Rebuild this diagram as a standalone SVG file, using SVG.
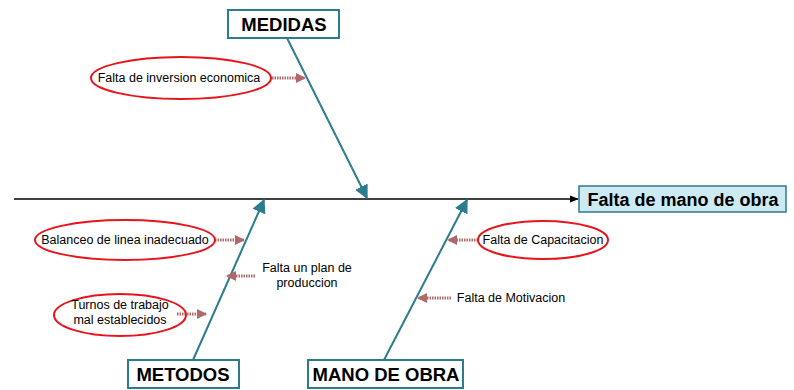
<svg xmlns="http://www.w3.org/2000/svg" width="794" height="390" viewBox="0 0 794 390">
<style>
.box{fill:#fff;stroke:#2b7c8c;stroke-width:2}
.bone{stroke:#2b7c8c;stroke-width:2;fill:none}
.cat{font-family:"Liberation Sans",Arial,sans-serif;font-weight:bold;font-size:18.5px;fill:#000;text-anchor:middle}
.ell{fill:none;stroke:#e8141c;stroke-width:2}
.t{font-family:"Liberation Sans",Arial,sans-serif;font-size:12.5px;fill:#000;text-anchor:middle}
.sm{stroke:#b06868;stroke-width:3;stroke-dasharray:1.5 1;fill:none}
</style>
<defs>
<marker id="ta" viewBox="0 0 10 10" refX="9" refY="5" markerWidth="14" markerHeight="14" markerUnits="userSpaceOnUse" orient="auto">
<path d="M0,0 L10,5 L0,10 z" fill="#2b7c8c"/>
</marker>
<marker id="ba" viewBox="0 0 10 10" refX="9" refY="5" markerWidth="10" markerHeight="10" markerUnits="userSpaceOnUse" orient="auto">
<path d="M0,0 L10,5 L0,10 z" fill="#b06868"/>
</marker>
<marker id="ka" viewBox="0 0 10 10" refX="9" refY="5" markerWidth="9" markerHeight="9" markerUnits="userSpaceOnUse" orient="auto">
<path d="M0,1 L10,5 L0,9 z" fill="#000"/>
</marker>
</defs>
<g id="connectors">
<line x1="14" y1="199" x2="578" y2="199" stroke="#000" stroke-width="1.3" marker-end="url(#ka)"/>
<line class="bone" x1="287" y1="38" x2="367" y2="198" marker-end="url(#ta)"/>
<line class="bone" x1="193" y1="360" x2="264" y2="200" marker-end="url(#ta)"/>
<line class="bone" x1="384" y1="360" x2="467" y2="200" marker-end="url(#ta)"/>
<line class="sm" x1="272" y1="78" x2="305" y2="78" marker-end="url(#ba)"/>
<line class="sm" x1="215" y1="240" x2="244" y2="240" marker-end="url(#ba)"/>
<line class="sm" x1="255" y1="276" x2="227" y2="276" marker-end="url(#ba)"/>
<line class="sm" x1="177" y1="314" x2="206" y2="314" marker-end="url(#ba)"/>
<line class="sm" x1="478" y1="240" x2="448" y2="240" marker-end="url(#ba)"/>
<line class="sm" x1="451" y1="298" x2="418" y2="298" marker-end="url(#ba)"/>
</g>
<g id="effect">
<rect x="579" y="186" width="207" height="26" fill="#cde9f1" stroke="#2b7c8c" stroke-width="1.5"/>
<text class="cat" x="683" y="206" style="font-size:18px">Falta de mano de obra</text>
</g>
<g id="medidas">
<rect class="box" x="228" y="10" width="111" height="28"/>
<text class="cat" x="284" y="31">MEDIDAS</text>
</g>
<g id="metodos">
<rect class="box" x="128" y="360" width="111" height="28"/>
<text class="cat" x="183" y="381">METODOS</text>
</g>
<g id="mano">
<rect class="box" x="308" y="360" width="155" height="28"/>
<text class="cat" x="386" y="381">MANO DE OBRA</text>
</g>
<g id="inversion">
<ellipse class="ell" cx="181" cy="78" rx="90" ry="21"/>
<text class="t" x="179" y="82">Falta de inversion economica</text>
</g>
<g id="balanceo">
<ellipse class="ell" cx="125" cy="240" rx="90" ry="20"/>
<text class="t" x="125" y="244">Balanceo de linea inadecuado</text>
</g>
<g id="plan">
<text class="t" x="307" y="272">Falta un plan de</text>
<text class="t" x="307" y="287">produccion</text>
</g>
<g id="turnos">
<ellipse class="ell" cx="120" cy="315" rx="66" ry="21"/>
<text class="t" x="120" y="309">Turnos de trabajo</text>
<text class="t" x="120" y="324">mal establecidos</text>
</g>
<g id="capacitacion">
<ellipse class="ell" cx="543" cy="240" rx="65" ry="19"/>
<text class="t" x="543" y="244">Falta de Capacitacion</text>
</g>
<g id="motivacion">
<text class="t" x="511" y="302">Falta de Motivacion</text>
</g>
</svg>
